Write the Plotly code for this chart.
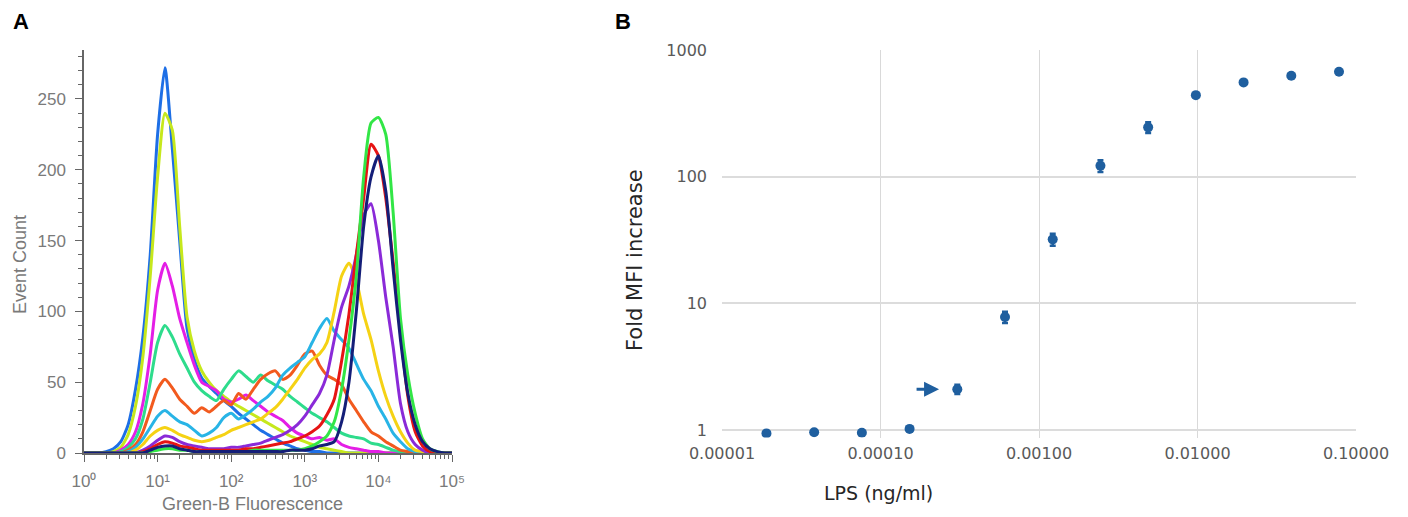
import math
import plotly.graph_objects as go

W, H = 1408, 517

# ---------------- Panel A data (histogram overlays) ----------------
log_fluor = [0.0, 0.1, 0.2, 0.3, 0.4, 0.5, 0.6, 0.7, 0.8, 0.9,
             1.0, 1.1, 1.2, 1.3, 1.4, 1.5, 1.6, 1.7, 1.8, 1.9,
             2.0, 2.1, 2.2, 2.3, 2.4, 2.5, 2.6, 2.7, 2.8, 2.9,
             3.0, 3.1, 3.2, 3.3, 3.4, 3.5, 3.6, 3.7, 3.8, 3.9,
             4.0, 4.1, 4.2, 4.3, 4.4, 4.5, 4.6, 4.7, 4.8, 4.9,
             5.0]

blue = [0, 0, 0, 1, 3, 8, 20, 45, 82, 140,
        225, 272, 215, 150, 88, 66, 53, 47, 42, 37,
        33, 28, 24, 20, 16, 13, 10, 7, 5, 3,
        2, 1, 1, 0, 0, 0, 0, 0, 0, 0,
        0, 0, 0, 0, 0, 0, 0, 0, 0, 0, 0]
chartreuse = [0, 0, 0, 0, 1, 4, 13, 33, 68, 125,
              195, 240, 228, 160, 96, 72, 58, 50, 44, 40,
              36, 33, 30, 27, 24, 21, 18, 15, 12, 10,
              8, 6, 4, 3, 2, 1, 0, 0, 0, 0,
              0, 0, 0, 0, 0, 0, 0, 0, 0, 0, 0]
magenta = [0, 0, 0, 0, 0, 2, 6, 15, 35, 70,
           115, 134, 118, 95, 78, 62, 50, 47, 44, 38,
           36, 38, 41, 37, 33, 29, 26, 23, 18, 14,
           12, 10, 11, 9, 10, 6, 4, 3, 2, 1,
           1, 0, 0, 0, 0, 0, 0, 0, 0, 0, 0]
seafoam = [0, 0, 0, 0, 0, 1, 4, 10, 24, 50,
           78, 90, 82, 70, 60, 50, 44, 40, 37, 45,
           52, 58, 54, 50, 55, 51, 48, 45, 40, 36,
           32, 28, 25, 22, 18, 14, 12, 11, 10, 7,
           6, 4, 2, 1, 0, 0, 0, 0, 0, 0, 0]
orange = [0, 0, 0, 0, 0, 0, 2, 6, 15, 30,
          45, 52, 46, 38, 33, 28, 32, 29, 33, 37,
          34, 42, 38, 45, 52, 56, 58, 52, 55, 62,
          70, 72, 62, 55, 52, 48, 38, 30, 22, 15,
          12, 8, 5, 2, 1, 0, 0, 0, 0, 0, 0]
cyan = [0, 0, 0, 0, 0, 0, 1, 4, 10, 18,
        26, 30, 26, 22, 20, 16, 12, 14, 18, 25,
        28, 24, 27, 31, 36, 40, 46, 55, 60, 64,
        68, 78, 88, 95, 86, 80, 74, 63, 52, 44,
        33, 24, 14, 8, 3, 1, 0, 0, 0, 0, 0]
gold = [0, 0, 0, 0, 0, 0, 0, 2, 6, 12,
        16, 18, 16, 13, 11, 9, 8, 9, 11, 13,
        16, 18, 20, 22, 24, 28, 32, 38, 45, 52,
        60, 66, 70, 78, 100, 125, 134, 122, 98, 80,
        58, 40, 26, 15, 7, 2, 1, 0, 0, 0, 0]
purple = [0, 0, 0, 0, 0, 0, 0, 0, 2, 5,
          9, 12, 11, 8, 6, 5, 4, 3, 3, 3,
          4, 4, 5, 6, 7, 9, 11, 13, 16, 20,
          26, 34, 42, 55, 80, 103, 118, 140, 168, 176,
          150, 110, 75, 35, 15, 6, 2, 0, 0, 0, 0]
red = [0, 0, 0, 0, 0, 0, 0, 0, 1, 3,
       6, 8, 7, 5, 4, 3, 2, 2, 2, 2,
       2, 2, 3, 3, 4, 5, 6, 7, 8, 10,
       12, 15, 19, 27, 38, 65, 98, 140, 180, 218,
       210, 180, 135, 85, 40, 15, 5, 1, 0, 0, 0]
lime = [0, 0, 0, 0, 0, 0, 0, 0, 0, 1,
        2, 3, 3, 2, 2, 1, 1, 1, 1, 1,
        1, 1, 1, 2, 2, 2, 2, 2, 2, 2,
        3, 5, 8, 12, 22, 45, 80, 125, 195, 233,
        237, 225, 170, 95, 55, 28, 10, 3, 1, 0, 0]
navy = [0, 0, 0, 0, 0, 0, 0, 0, 0, 2,
        4, 5, 5, 3, 2, 1, 1, 1, 1, 1,
        1, 1, 1, 1, 1, 1, 1, 1, 2, 2,
        2, 3, 5, 6, 8, 22, 50, 100, 160, 195,
        210, 185, 130, 80, 42, 20, 8, 3, 1, 0, 0]

curve_names = ["blue", "chartreuse", "magenta", "seafoam", "orange", "cyan",
               "gold", "purple", "red", "lime", "navy"]
curve_values = [blue, chartreuse, magenta, seafoam, orange, cyan,
                gold, purple, red, lime, navy]
curve_colors = ["#1e6fe6", "#c6e81c", "#e41ee6", "#2edc8c", "#f25a1e", "#28b4e6",
                "#f5d214", "#8a2ad8", "#e61414", "#32e646", "#141e78"]

a_xticks = [1, 10, 100, 1000, 10000, 100000]
a_xticktext = ["10\u2070", "10\u00b9", "10\u00b2", "10\u00b3", "10\u2074", "10\u2075"]
a_yticks = [0, 50, 100, 150, 200, 250]

# ---------------- Panel B data (dose response) ----------------
lps = [0.000019073, 0.000038147, 0.000076294, 0.00015259, 0.00030518,
       0.00061035, 0.0012207, 0.0024414, 0.0048828, 0.0097656,
       0.019531, 0.039063, 0.078125]
fold_mfi = [0.94, 0.96, 0.95, 1.02, 2.1, 7.8, 32, 122, 245, 440, 555, 627, 673]
fold_err = [0.02, 0.02, 0.02, 0.03, 0.18, 0.8, 3.5, 13, 24, 12, 14, 15, 16]

b_xticks = [0.00001, 0.0001, 0.001, 0.01, 0.1]
b_xticktext = ["0.00001", "0.00010", "0.00100", "0.01000", "0.10000"]
b_yticks = [1, 10, 100, 1000]
b_yticktext = ["1", "10", "100", "1000"]

fig = go.Figure()

fluor = [10 ** e for e in log_fluor]
for name, vals, col in zip(curve_names, curve_values, curve_colors):
    fig.add_trace(go.Scatter(
        x=fluor, y=vals, mode="lines", name=name,
        line=dict(color=col, width=3, shape="spline", smoothing=0.6),
        xaxis="x", yaxis="y", showlegend=False, hoverinfo="skip"))

mark_col = "#1f5f9f"
fig.add_trace(go.Scatter(
    x=lps, y=fold_mfi, mode="markers",
    marker=dict(color=mark_col, size=10),
    error_y=dict(type="data", array=fold_err, color=mark_col, thickness=2.5, width=3),
    xaxis="x2", yaxis="y2", showlegend=False))


def px_x(p):
    return p / W


def px_y(p):
    return 1 - p / H


a_font = "Liberation Sans, Arial, sans-serif"
b_font = "DejaVu Sans, Verdana, sans-serif"
a_gray = "#7a7a7a"

minor_a = [m * 10 ** d for d in range(5) for m in range(2, 10)]

# panel B: 1..1000 spans y=430..50 px; the plot area extends a little below 1
b_low = -0.06
b_dec = (430 - 50) / 3.0
b_bottom_px = 430 - b_low * b_dec

fig.update_layout(
    width=W, height=H,
    margin=dict(l=0, r=0, t=0, b=0, pad=0, autoexpand=False),
    paper_bgcolor="white", plot_bgcolor="white",
    showlegend=False,
    xaxis=dict(
        domain=[px_x(84), px_x(452)], type="log", range=[0, 5], anchor="y",
        automargin=False,
        showgrid=False, zeroline=False, showline=True, linecolor="#666", linewidth=1.5,
        tickmode="array", tickvals=a_xticks, ticktext=a_xticktext,
        ticks="outside", ticklen=7, tickcolor="#666", tickwidth=1.2,
        minor=dict(tickvals=minor_a, ticks="outside", ticklen=4, tickcolor="#666", showgrid=False),
        tickfont=dict(family=a_font, size=17, color=a_gray),
        ticklabelstandoff=5,
    ),
    yaxis=dict(
        domain=[px_y(453), px_y(50)], range=[0, 284.6], anchor="x",
        automargin=False,
        showgrid=False, zeroline=False, showline=True, linecolor="#666", linewidth=1.5,
        tickmode="array", tickvals=a_yticks,
        ticks="outside", ticklen=7, tickcolor="#666", tickwidth=1.2,
        minor=dict(dtick=10, tick0=0, ticks="outside", ticklen=4, tickcolor="#666", showgrid=False),
        tickfont=dict(family=a_font, size=17, color=a_gray),
        ticklabelstandoff=6,
    ),
    xaxis2=dict(
        domain=[px_x(722), px_x(1356)], type="log", range=[-5, -1], anchor="y2",
        automargin=False,
        showgrid=True, gridcolor="#d9d9d9", gridwidth=1, zeroline=False,
        showline=False,
        tickmode="array", tickvals=b_xticks, ticktext=b_xticktext, ticks="",
        tickfont=dict(family=b_font, size=16, color="#595959"),
        ticklabelstandoff=4,
    ),
    yaxis2=dict(
        domain=[px_y(b_bottom_px), px_y(50)], type="log", range=[b_low, 3], anchor="x2",
        automargin=False,
        showgrid=True, gridcolor="#dcdcdc", gridwidth=2, zeroline=False,
        showline=False,
        tickmode="array", tickvals=b_yticks, ticktext=b_yticktext, ticks="",
        tickfont=dict(family=b_font, size=16, color="#595959"),
        ticklabelstandoff=14,
    ),
)

annotations = [
    dict(text="<b>A</b>", x=px_x(11), y=px_y(22), xref="paper", yref="paper",
         xanchor="left", yanchor="middle", showarrow=False,
         font=dict(family=a_font, size=22, color="black")),
    dict(text="<b>B</b>", x=px_x(613), y=px_y(22), xref="paper", yref="paper",
         xanchor="left", yanchor="middle", showarrow=False,
         font=dict(family=a_font, size=22, color="black")),
    dict(text="Event Count", x=px_x(20), y=px_y(265), xref="paper", yref="paper",
         xanchor="center", yanchor="middle", textangle=-90, showarrow=False,
         font=dict(family=a_font, size=18, color=a_gray)),
    dict(text="Green-B Fluorescence", x=px_x(252), y=px_y(504), xref="paper", yref="paper",
         xanchor="center", yanchor="middle", showarrow=False,
         font=dict(family=a_font, size=18, color=a_gray)),
    dict(text="Fold MFI increase", x=px_x(635), y=px_y(260), xref="paper", yref="paper",
         xanchor="center", yanchor="middle", textangle=-90, showarrow=False,
         font=dict(family=b_font, size=21, color="#262626")),
    dict(text="LPS (ng/ml)", x=px_x(878), y=px_y(493), xref="paper", yref="paper",
         xanchor="center", yanchor="middle", showarrow=False,
         font=dict(family=b_font, size=19, color="#262626")),
    # arrow pointing at the 5th dose point
    dict(text="", x=math.log10(lps[4]) - 0.115, y=math.log10(fold_mfi[4]),
         xref="x2", yref="y2", ax=-24, ay=0, showarrow=True,
         arrowhead=2, arrowsize=1, arrowwidth=3, arrowcolor=mark_col),
]
fig.update_layout(annotations=annotations)

fig.write_html(
    "out.html",
    config={"displayModeBar": False},
    post_script="document.body.style.margin='0px';document.body.style.padding='0px';"
                "document.body.style.overflow='hidden';",
)
